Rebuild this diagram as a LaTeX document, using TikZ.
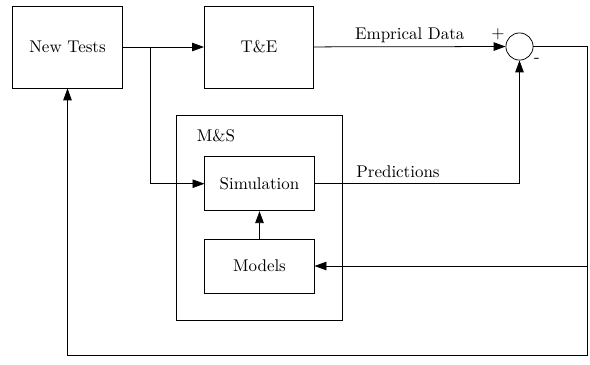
\documentclass[tikz,border=0pt]{standalone}
\usetikzlibrary{arrows.meta}
\begin{document}
\begin{tikzpicture}[x=0.59pt,y=-0.59pt, line width=0.45pt,
 box/.style={draw, minimum width=64.5pt, minimum height=48.4pt, inner sep=0pt},
 sbox/.style={draw, minimum width=64.5pt, minimum height=32pt, inner sep=0pt},
 arr/.style={-{Triangle[length=7pt,width=5pt]}},
 sumnode/.style={draw, circle, minimum size=16pt, inner sep=0pt}]
\useasboundingbox (0,0) rectangle (590,364);
\node[box] (nt) at (67.5,47) {New Tests};
\node[box] (te) at (259,47) {T\&E};
\node[sumnode] (s) at (519.5,46.5) {};
\node[draw, minimum width=97.6pt, minimum height=121pt, inner sep=0pt] (ms) at (259.5,218) {};
\node (mslabel) at (216,136) {M\&S};
\node[sbox] (sim) at (259.5,183.7) {Simulation};
\node[sbox] (mod) at (259.5,266) {Models};
\node (plus) at (498,34) {+};
\node (minus) at (537,60) {-};
\coordinate (br) at (150,47);
\coordinate (r1) at (587,46.5);
\coordinate (r2) at (587,266);
\coordinate (r3) at (587,355);
\coordinate (l3) at (67.5,355);
\coordinate (pc) at (519.5,183.7);
\draw[arr] (nt) -- (te);
\draw[arr] (br) |- (sim);
\draw[arr] (te) -- node[above, inner sep=2pt] (ed) {Emprical Data} (s);
\draw[arr] (s.east) -- (r1) -- (r3) -- (l3) -- (nt.south);
\draw[arr] (r2) -- (mod);
\draw[arr] (sim) -- (pc) -- (s);
\node (pred) at (398,172) {Predictions};
\draw[arr] (mod) -- (sim);
\end{tikzpicture}
\end{document}
